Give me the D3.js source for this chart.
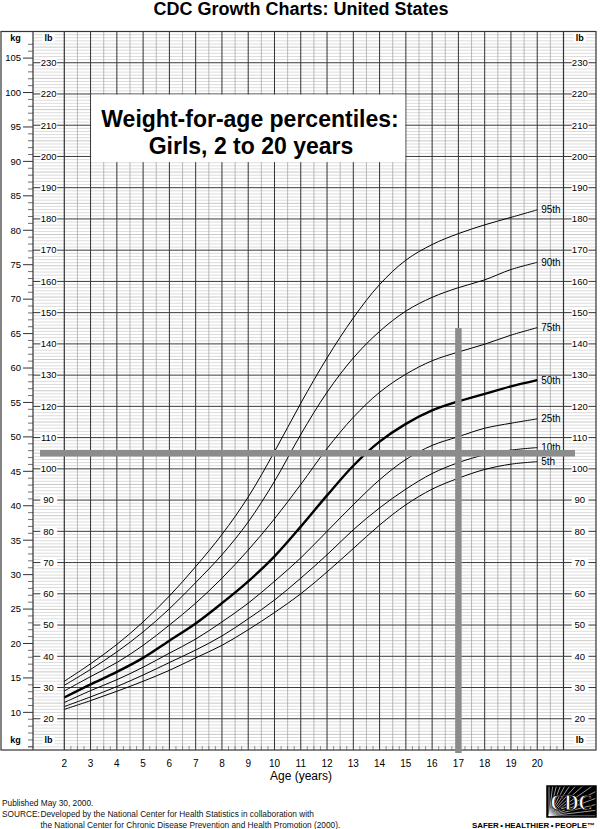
<!DOCTYPE html>
<html><head><meta charset="utf-8">
<script src="https://cdn.jsdelivr.net/npm/d3@7"></script>
<style>
body{margin:0;background:#fff;}
svg{display:block;font-family:"Liberation Sans",Arial,Helvetica,sans-serif;}
</style>
</head><body>
<svg id="c" width="602" height="829"></svg>
<script>
// ---------------- data (weight in lb) ----------------
const ages = [2,3,4,5,6,7,8,9,10,11,12,13,14,15,16,17,18,19,20];
const p95 = [32.0,37.6,43.8,51.0,59.3,68.7,79.0,91.0,105.5,121.0,135.5,148.3,159.0,166.8,171.8,175.3,178.1,180.5,182.9];
const p90 = [30.7,35.8,41.4,47.8,55.2,63.6,72.5,83.0,96.0,111.0,124.5,135.5,144.0,150.5,154.9,158.0,160.5,163.8,166.1];
const p75 = [28.9,33.5,38.0,43.5,50.0,57.0,65.0,74.0,84.0,95.0,106.5,116.5,124.5,130.3,134.6,137.4,139.9,142.8,145.2];
const p50 = [26.8,31.0,35.0,39.5,45.0,50.5,57.0,64.0,72.0,81.5,91.5,101.0,108.7,114.4,118.7,121.6,124.0,126.4,128.4];
const p25 = [25.2,29.0,32.5,36.5,41.0,45.5,51.0,57.0,64.0,71.5,80.0,88.5,96.5,103.0,107.5,110.3,113.0,114.6,116.0];
const p10 = [23.9,27.0,30.3,34.0,38.0,42.0,46.5,52.0,58.0,65.0,72.5,80.5,87.5,93.5,98.5,102.0,104.5,106.0,106.8];
const p5  = [23.0,25.8,28.8,32.0,35.5,39.5,43.5,48.5,54.0,60.0,67.0,74.5,82.0,88.5,93.5,97.0,99.8,101.5,102.3];
const seriesNames = ["95th","90th","75th","50th","25th","10th","5th"];
const seriesValues = [p95,p90,p75,p50,p25,p10,p5];
const ageTicks = d3.range(2, 21);
const lbTicks = d3.range(20, 231, 10);
const kgTicks = d3.range(10, 106, 5);
const exampleAge = 17, exampleWeight = 105;

// ---------------- layout ----------------
const svg = d3.select("#c");
const X0 = 64.3, X1 = 563.5, Y0 = 31.5, Y1 = 750;
const x = d3.scaleLinear().domain([2, 21]).range([X0, X1]);
const y = d3.scaleLinear().domain([10, 240]).range([Y1, Y0]);
const LB_PER_KG = 2.20462;
const yk = kg => y(kg * LB_PER_KG);

// title
svg.append("text").attr("x", 301).attr("y", 15).attr("text-anchor","middle")
  .attr("font-size", 18).attr("font-weight","bold").text("CDC Growth Charts: United States");

const g = svg.append("g");

// minor horizontal lines (1 lb)
const minorLb = d3.range(11, 240).filter(v => v % 10 !== 0);
g.selectAll(".mh").data(minorLb).join("line")
  .attr("x1", 33).attr("x2", 596)
  .attr("y1", d => y(d)).attr("y2", d => y(d))
  .attr("stroke", d => d % 5 === 0 ? "#b0b0b0" : "#cdcdcd").attr("stroke-width", 0.7);

// half-year verticals
const halfYears = d3.range(2.5, 21, 1);
g.selectAll(".hv").data(halfYears).join("line")
  .attr("x1", d => x(d)).attr("x2", d => x(d)).attr("y1", Y0).attr("y2", Y1)
  .attr("stroke", "#a8a8a8").attr("stroke-width", 0.8);

// quarter ticks at bottom
const quarters = d3.range(2, 21, 0.25).filter(v => v % 1 !== 0);
g.selectAll(".qt").data(quarters).join("line")
  .attr("x1", d => x(d)).attr("x2", d => x(d)).attr("y1", Y1).attr("y2", Y1 - 4)
  .attr("stroke", "#777").attr("stroke-width", 0.8);

// major horizontal lines (10 lb)
g.selectAll(".Mh").data(lbTicks).join("line")
  .attr("x1", X0).attr("x2", X1)
  .attr("y1", d => y(d)).attr("y2", d => y(d))
  .attr("stroke", "#3a3a3a").attr("stroke-width", 1);

// year verticals
g.selectAll(".yv").data(d3.range(3, 21)).join("line")
  .attr("x1", d => x(d)).attr("x2", d => x(d)).attr("y1", Y0).attr("y2", Y1)
  .attr("stroke", "#333").attr("stroke-width", 1);

// frame
const frame = svg.append("g").attr("stroke", "#333").attr("stroke-width", 1.2).attr("fill", "none");
frame.append("rect").attr("x", 1).attr("y", Y0).attr("width", 595).attr("height", Y1 - Y0);
[33, X0, X1].forEach(xx => frame.append("line").attr("x1", xx).attr("x2", xx).attr("y1", Y0).attr("y2", Y1));

// kg column
const kgMinor = d3.range(5, 108);
svg.append("g").selectAll("line").data(kgMinor).join("line")
  .attr("x1", d => d % 5 === 0 && d >= 10 && d <= 105 ? 23 : 28).attr("x2", 33)
  .attr("y1", d => yk(d)).attr("y2", d => yk(d))
  .attr("stroke", "#333").attr("stroke-width", d => d % 5 === 0 ? 1 : 0.7);
svg.append("g").selectAll("text").data(kgTicks).join("text")
  .attr("x", 21).attr("y", d => yk(d)).attr("dy", "0.35em").attr("text-anchor", "end")
  .attr("font-size", 9.5).text(d => d);

// lb columns
function lbColumn(cx, xl, xr) {
  const col = svg.append("g");
  col.selectAll("line.l").data(lbTicks).join("line")
    .attr("x1", xl).attr("x2", cx - 8).attr("y1", d => y(d)).attr("y2", d => y(d))
    .attr("stroke", "#333").attr("stroke-width", 1);
  col.selectAll("line.r").data(lbTicks).join("line")
    .attr("x1", cx + 8.5).attr("x2", xr).attr("y1", d => y(d)).attr("y2", d => y(d))
    .attr("stroke", "#333").attr("stroke-width", 1);
  col.selectAll("rect").data(lbTicks).join("rect")
    .attr("x", cx - 8).attr("width", 16.5).attr("y", d => y(d) - 4).attr("height", 8).attr("fill", "#fff");
  col.selectAll("text").data(lbTicks).join("text")
    .attr("x", cx).attr("y", d => y(d)).attr("dy", "0.35em").attr("text-anchor", "middle")
    .attr("font-size", 9.5).text(d => d);
  [40.5, 743].forEach(yy => {
    col.append("rect").attr("x", cx - 6).attr("y", yy - 7.5).attr("width", 12).attr("height", 9).attr("fill", "#fff");
    col.append("text").attr("x", cx).attr("y", yy).attr("text-anchor", "middle")
      .attr("font-size", 9).attr("font-weight", "bold").text("lb");
  });
}
lbColumn(48.6, 33, X0);
lbColumn(579.8, X1, 596);
[40.5, 743].forEach(yy => {
  svg.append("text").attr("x", 15.5).attr("y", yy).attr("text-anchor", "middle")
    .attr("font-size", 9).attr("font-weight", "bold").text("kg");
});

// title box
svg.append("rect").attr("x", x(3) + 0.6).attr("y", y(220) + 0.6)
  .attr("width", x(15) - x(3) - 1.2).attr("height", y(198) - y(220) - 1.2).attr("fill", "#fff");
svg.append("text").attr("x", 250).attr("y", 127).attr("text-anchor", "middle")
  .attr("font-size", 23).attr("font-weight", "bold").text("Weight-for-age percentiles:");
svg.append("text").attr("x", 251).attr("y", 154).attr("text-anchor", "middle")
  .attr("font-size", 23).attr("font-weight", "bold").text("Girls, 2 to 20 years");

// curves
const line = d3.line().x((d, i) => x(ages[i])).y(d => y(d)).curve(d3.curveCatmullRom.alpha(0.5));
const curves = svg.append("g").attr("fill", "none").attr("stroke", "#000");
seriesValues.forEach((vals, i) => {
  curves.append("path").attr("d", line(vals))
    .attr("stroke-width", seriesNames[i] === "50th" ? 2.4 : 1);
});
svg.append("g").selectAll("text").data(seriesValues).join("text")
  .attr("x", x(20) + 4).attr("y", d => y(d[d.length - 1])).attr("dy", "0.35em")
  .attr("font-size", 10).text((d, i) => seriesNames[i]);

// example crosshair
svg.append("line").attr("x1", 40).attr("x2", 575).attr("y1", y(exampleWeight)).attr("y2", y(exampleWeight))
  .attr("stroke", "#8c8c8c").attr("stroke-width", 6.5);
svg.append("line").attr("x1", x(exampleAge)).attr("x2", x(exampleAge)).attr("y1", 328).attr("y2", 753)
  .attr("stroke", "#8c8c8c").attr("stroke-width", 6.5);

// age axis labels
svg.append("g").selectAll("text").data(ageTicks).join("text")
  .attr("x", d => x(d)).attr("y", 767).attr("text-anchor", "middle").attr("font-size", 10).text(d => d);
svg.append("text").attr("x", 301).attr("y", 780).attr("text-anchor", "middle").attr("font-size", 12).text("Age (years)");

// footer
const foot = svg.append("g").attr("font-size", 8.3).attr("fill", "#111");
foot.append("text").attr("x", 2).attr("y", 806).text("Published May 30, 2000.");
foot.append("text").attr("x", 2).attr("y", 817).text("SOURCE:");
foot.append("text").attr("x", 40.5).attr("y", 817).text("Developed by the National Center for Health Statistics in collaboration with");
foot.append("text").attr("x", 40.5).attr("y", 827.5).text("the National Center for Chronic Disease Prevention and Health Promotion (2000).");

// CDC logo
const logo = svg.append("g");
logo.append("rect").attr("x", 547).attr("y", 786).attr("width", 49).attr("height", 31).attr("fill", "#000");
d3.range(0, 14).forEach(k => {
  const a = -Math.PI / 2 + k * (Math.PI / 2) / 13;
  logo.append("line").attr("x1", 549).attr("y1", 816).attr("x2", 549 + 60 * Math.cos(a)).attr("y2", 816 + 60 * Math.sin(a))
    .attr("stroke", "#fff").attr("stroke-width", 0.6);
});
logo.append("rect").attr("x", 547).attr("y", 786).attr("width", 49).attr("height", 31).attr("fill", "none").attr("stroke", "#000").attr("stroke-width", 1.5);
logo.append("text").attr("x", 571.5).attr("y", 810).attr("text-anchor", "middle")
  .attr("font-family", '"Liberation Serif","DejaVu Serif",serif').attr("font-weight", "bold")
  .attr("font-size", 23).attr("textLength", 42).attr("lengthAdjust", "spacingAndGlyphs")
  .attr("fill", "#fff").attr("stroke", "#000").attr("stroke-width", 0.8).text("CDC");
svg.append("text").attr("x", 595).attr("y", 827.5).attr("text-anchor", "end")
  .attr("font-size", 7).attr("font-weight", "bold").attr("textLength", 123).attr("lengthAdjust", "spacingAndGlyphs")
  .text("SAFER\u2009\u2022\u2009HEALTHIER\u2009\u2022\u2009PEOPLE\u2122");
</script>
</body></html>
